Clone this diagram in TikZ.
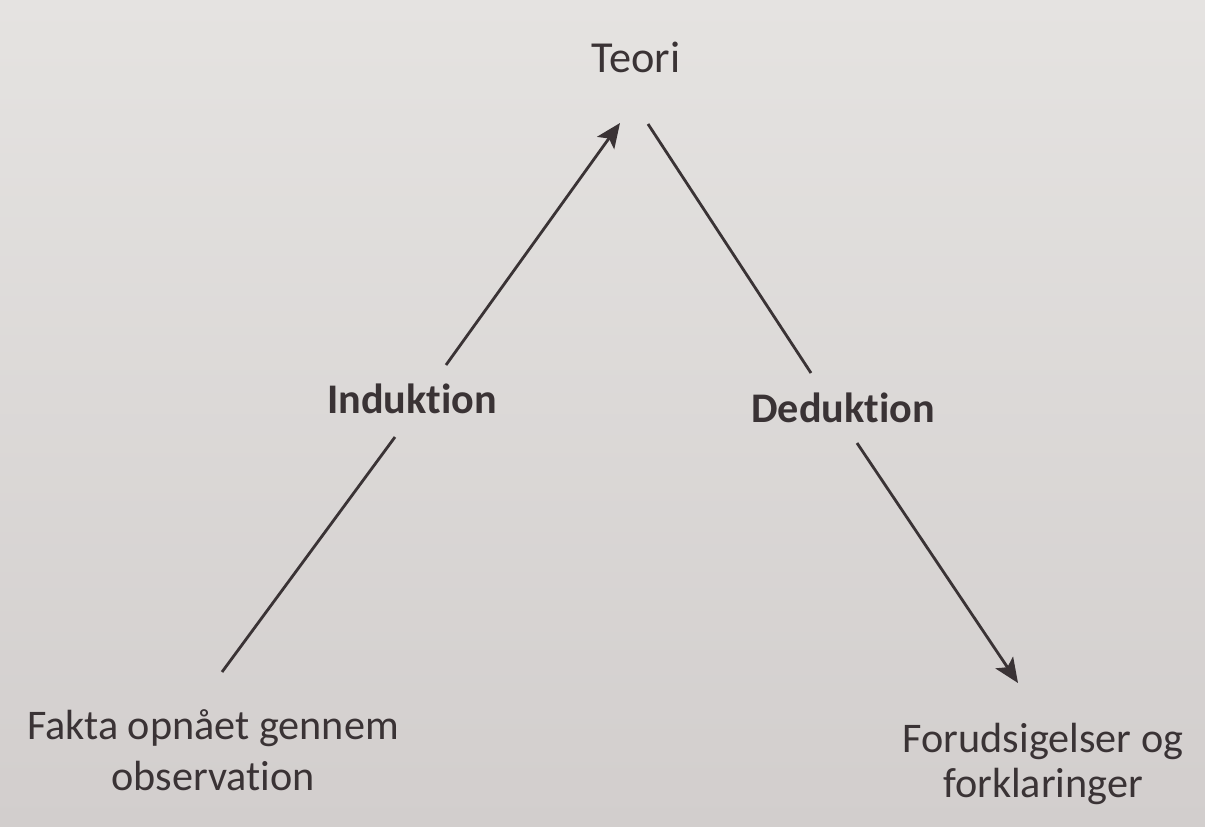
\documentclass[tikz,border=0pt]{standalone}
\usepackage{fontspec}
\setmainfont{Carlito}[Ligatures=NoCommon]
\usetikzlibrary{arrows.meta}
\definecolor{papertop}{HTML}{E5E3E1}
\definecolor{paperbot}{HTML}{D2CECD}
\definecolor{ink}{HTML}{3A3335}
\tikzset{
  lbl/.style={inner sep=0pt, text=ink, font=\fontsize{12}{14.5}\selectfont},
  keyword/.style={lbl, font=\fontsize{12}{14.5}\selectfont\bfseries},
  link/.style={draw=ink, line width=0.8pt},
  arrowlink/.style={link, -{Stealth[length=7pt, width=6pt, inset=1.6pt]}}
}
\begin{document}
\begin{tikzpicture}[x=0.01cm, y=-0.01cm]
\useasboundingbox (0,0) rectangle (1205,827);
\shade[top color=papertop, bottom color=paperbot] (0,0) rectangle (1205,827);

% labels (multi-line nodes sit on the baseline of their last line)
\node[lbl, anchor=base, font=\fontsize{12.6}{15}\selectfont] (teori) at (636,72) {Teori};
\node[keyword, anchor=base] (ind) at (412,413) {Induktion};
\node[keyword, anchor=base] (ded) at (843,422) {Deduktion};
\node[lbl, align=center, anchor=base, font=\fontsize{12}{14.5}\selectfont] (fakta) at (213,790) {Fakta opnået gennem\\observation};
\node[lbl, align=center, anchor=base, font=\fontsize{12}{12.6}\selectfont] (forud) at (1043,797) {Forudsigelser og\\forklaringer};

% line ends around the labels
\coordinate (i0) at (222,672);
\coordinate (i1) at (395,437);
\coordinate (i2) at (446,365);
\coordinate (i3) at (620,123);
\coordinate (d0) at (648,124);
\coordinate (d1) at (811,373);
\coordinate (d2) at (857,443);
\coordinate (d3) at (1018,683);

% induction: facts up to theory
\draw[link] (i0) -- (i1);
\draw[arrowlink] (i2) -- (i3);
% deduction: theory down to predictions
\draw[link] (d0) -- (d1);
\draw[arrowlink] (d2) -- (d3);
\end{tikzpicture}
\end{document}
